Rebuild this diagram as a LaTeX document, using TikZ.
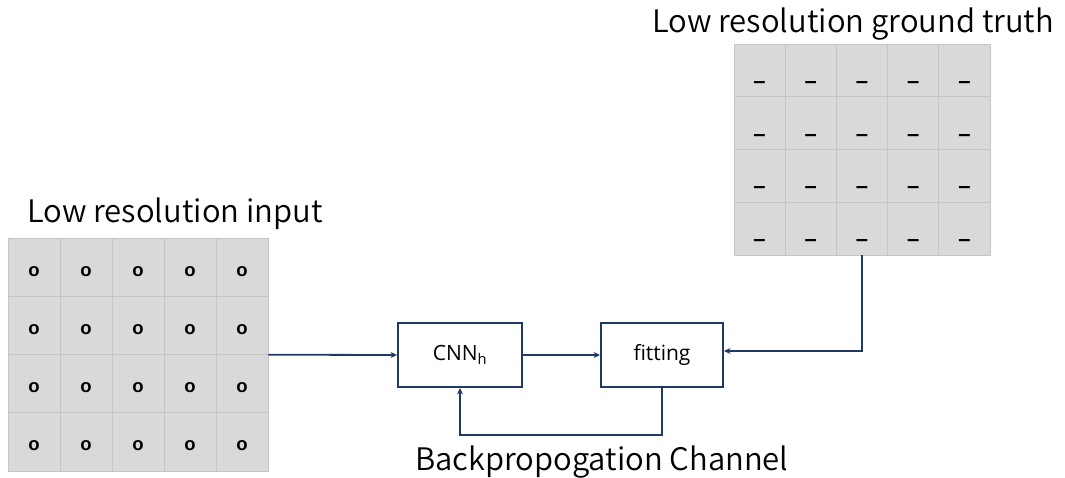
\documentclass[tikz,border=0pt]{standalone}
\usepackage{fontspec}
\setmainfont{Liberation Sans}
\newfontfamily\titlefont{Noto Sans CJK JP DemiLight}
\newfontfamily\boxfont{Open Sans}
\usetikzlibrary{arrows.meta}
\definecolor{navy}{HTML}{203864}
\definecolor{cellfill}{HTML}{D9D9D9}
\definecolor{cellline}{HTML}{C4C4C4}
\tikzset{
  title/.style={font=\titlefont\fontsize{31}{34}\selectfont, inner sep=0pt, anchor=base west},
  gridframe/.style={inner sep=0pt, anchor=north west},
  mark o/.style={font=\bfseries\fontsize{18.5}{20}\selectfont, inner sep=0pt},
  mark dash/.style={font=\bfseries\fontsize{22}{24}\selectfont, inner sep=0pt},
  block/.style={draw=navy, line width=2pt, minimum height=64pt, inner sep=0pt,
    font=\boxfont\fontsize{21}{24}\selectfont},
  flow/.style={draw=navy, line width=1.8pt, -{Stealth[length=6.5pt,width=6pt]}},
}
\begin{document}
\begin{tikzpicture}[x=1pt, y=-1pt]
\useasboundingbox (0,0) rectangle (1065,477);

% low resolution input grid: 5 x 4 cells
\node[gridframe, minimum width=260pt, minimum height=233pt] (inp) at (8,238) {};
\fill[cellfill] (8,238) rectangle (268,471);
\foreach \i in {1,...,4} \draw[cellline, line width=0.8pt] (8+\i*52,238) -- (8+\i*52,471);
\foreach \j in {1,...,3} \draw[cellline, line width=0.8pt] (8,238+\j*58.25) -- (268,238+\j*58.25);
\draw[cellline, line width=0.8pt] (8,238) rectangle (268,471);
\foreach \r in {1,...,4}
  \foreach \c in {1,...,5}
    \node[mark o] (in-\r-\c) at (8+\c*52-26, 238+\r*58.25-25) {o};
\node[title] (intitle) at (27,222) {Low resolution input};

% low resolution ground truth grid: 5 x 4 cells
\node[gridframe, minimum width=256pt, minimum height=211pt] (gt) at (734,44) {};
\fill[cellfill] (734,44) rectangle (990,255);
\foreach \i in {1,...,4} \draw[cellline, line width=0.8pt] (734+\i*51.2,44) -- (734+\i*51.2,255);
\foreach \j in {1,...,3} \draw[cellline, line width=0.8pt] (734,44+\j*52.75) -- (990,44+\j*52.75);
\draw[cellline, line width=0.8pt] (734,44) rectangle (990,255);
\foreach \r in {1,...,4}
  \foreach \c in {1,...,5}
    \node[mark dash] (gt-\r-\c) at (734+\c*51.2-25.6, 44+\r*52.75-12) {–};
\node[title] (gttitle) at (652,32) {Low resolution ground truth};

% processing blocks
\node[block, minimum width=124pt] (cnn) at (460,355) {CNN\textsubscript{h}};
\node[block, minimum width=122pt] (fit) at (662,355) {fitting};

% connectors
\coordinate (bp) at (560,435);
\draw[flow] (inp.east) -- (cnn.west);
\draw[flow] (cnn.east) -- (fit.west);
\draw[flow] (gt.south) |- ([yshift=4pt]fit.east);
\draw[flow] (fit.south) |- (bp) -| (cnn.south);
\node[title] (bptitle) at (415,470) {Backpropogation Channel};
\end{tikzpicture}
\end{document}
